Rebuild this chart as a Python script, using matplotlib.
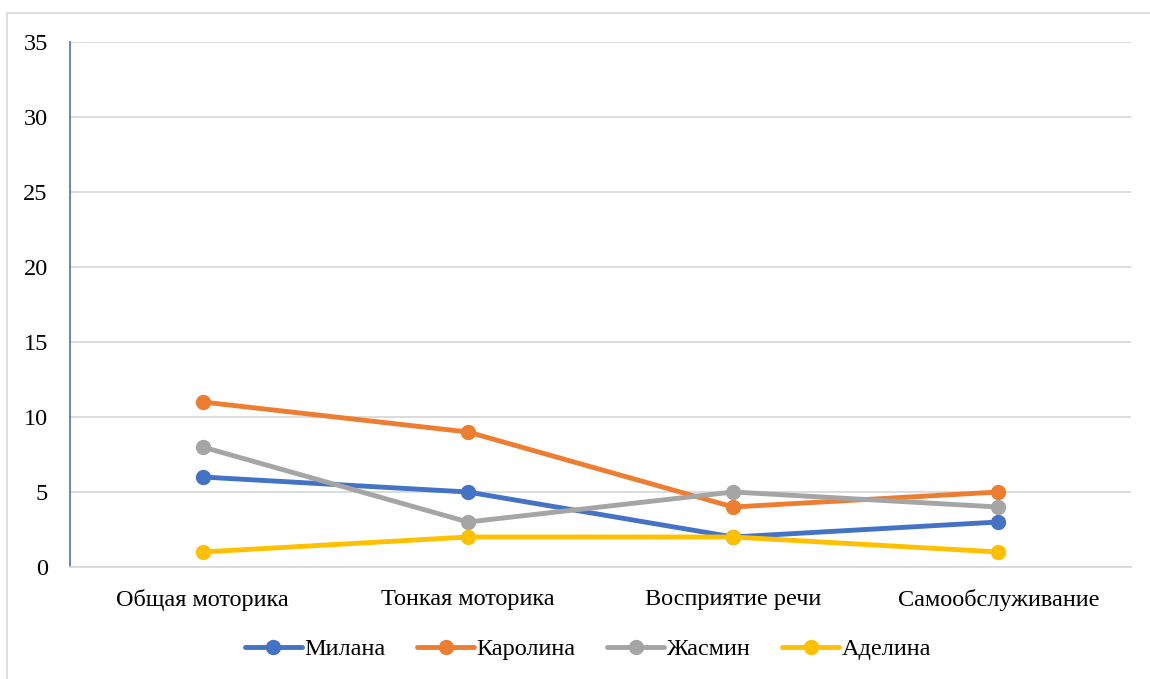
import matplotlib
matplotlib.use("Agg")
import matplotlib.pyplot as plt
from matplotlib.patches import Rectangle

categories = ["Общая моторика", "Тонкая моторика", "Восприятие речи", "Самообслуживание"]
series_names = ["Милана", "Каролина", "Жасмин", "Аделина"]
milana = [6, 5, 2, 3]
karolina = [11, 9, 4, 5]
jasmin = [8, 3, 5, 4]
adelina = [1, 2, 2, 1]
y_ticks = [0, 5, 10, 15, 20, 25, 30, 35]

colors = ["#4472C4", "#ED7D31", "#A5A5A5", "#FFC000"]
values = [milana, karolina, jasmin, adelina]

plt.rcParams["font.family"] = ["Liberation Serif", "DejaVu Serif"]

W, H = 1150, 679
fig = plt.figure(figsize=(W / 100, H / 100), dpi=100)

# outer chart frame (continues past the right and bottom edges)
fig.patches.append(Rectangle((7 / W, -0.1), 1.2, 1 - 13 / H + 0.1,
                             transform=fig.transFigure, fill=False,
                             edgecolor="#D9D9D9", linewidth=1.2))

ax = fig.add_axes([70 / W, 1 - 567 / H, (1131 - 70) / W, (567 - 42) / H])
x = list(range(len(categories)))
for name, vals, c in zip(series_names, values, colors):
    ax.plot(x, vals, color=c, linewidth=3.5, marker="o", markersize=10,
            label=name, solid_capstyle="round")

ax.set_xlim(-0.5, len(categories) - 0.5)
ax.set_ylim(0, 35)
ax.set_yticks(y_ticks)
ax.set_xticks(x)
ax.set_xticklabels(categories)
ax.grid(axis="y", color="#D9D9D9", linewidth=1.3)
ax.set_axisbelow(True)
for s in ["top", "right"]:
    ax.spines[s].set_visible(False)
ax.spines["left"].set_color("#4472C4")
ax.spines["left"].set_linewidth(1.2)
ax.spines["bottom"].set_color("#D9D9D9")
ax.spines["bottom"].set_linewidth(1.3)
ax.tick_params(length=0, labelsize=17.5, colors="black")
ax.tick_params(axis="y", pad=16)
ax.tick_params(axis="x", pad=16)

fig.legend(loc="center", bbox_to_anchor=(588 / W, 1 - 649 / H), ncol=4,
           frameon=False, fontsize=17.5, handlelength=2.35, handletextpad=0.1,
           columnspacing=1.3)

fig.savefig("out.png", dpi=100, facecolor="white")
